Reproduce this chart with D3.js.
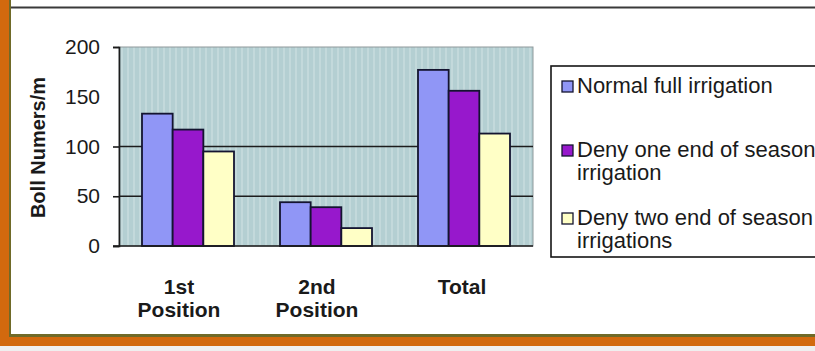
<!DOCTYPE html>
<html>
<head>
<meta charset="utf-8">
<script src="https://cdn.jsdelivr.net/npm/d3@7"></script>
<style>
  html, body { margin: 0; padding: 0; background: #ffffff; }
  svg { display: block; }
  text { font-family: "Liberation Sans", Arial, sans-serif; fill: #1a1a1a; }
</style>
</head>
<body>
<svg id="chart" width="815" height="351"></svg>
<script>
// Boll numbers per metre by fruiting position and irrigation treatment
const categories = [["1st", "Position"], ["2nd", "Position"], ["Total"]];
const categoryKeys = ["1st Position", "2nd Position", "Total"];
const seriesNames = [
  ["Normal full irrigation"],
  ["Deny one end of season", "irrigation"],
  ["Deny two end of season", "irrigations"]
];
const normalFull = [133, 44, 177];
const denyOne = [117, 39, 156];
const denyTwo = [95, 18, 113];
const yTicks = [0, 50, 100, 150, 200];
const gridValues = [50, 100];
const seriesValues = [normalFull, denyOne, denyTwo];
const seriesColors = ["#9096f6", "#9718cc", "#ffffc6"];

const svg = d3.select("#chart");
const W = 815, H = 351;

// frame: orange border on the left and bottom, dark rule along the top
svg.append("rect").attr("x", 0).attr("y", 346).attr("width", W).attr("height", 5).attr("fill", "#efefef");
svg.append("rect").attr("x", 0).attr("y", 0).attr("width", 9).attr("height", 346).attr("fill", "#d2690e");
svg.append("rect").attr("x", 0).attr("y", 337).attr("width", W).attr("height", 9).attr("fill", "#d2690e");
svg.append("rect").attr("x", 9).attr("y", 0).attr("width", 2).attr("height", 337).attr("fill", "#6f6a28");
svg.append("rect").attr("x", 9).attr("y", 334).attr("width", W - 9).attr("height", 3).attr("fill", "#6f6a28");
svg.append("line").attr("x1", 11).attr("x2", W).attr("y1", 7.5).attr("y2", 7.5)
  .attr("stroke", "#3a3a3a").attr("stroke-width", 2);

const plot = { left: 119, right: 533, top: 47, bottom: 246 };

const x0 = d3.scaleBand().domain(categoryKeys)
  .range([plot.left, plot.right]).paddingInner(1 / 3).paddingOuter(1 / 6);
const x1 = d3.scaleBand().domain(d3.range(seriesValues.length))
  .range([0, x0.bandwidth()]).padding(0);
const y = d3.scaleLinear().domain([0, 200]).range([plot.bottom, plot.top]);

// plot area with a light vertical-stripe texture
const defs = svg.append("defs");
const pat = defs.append("pattern").attr("id", "wall").attr("patternUnits", "userSpaceOnUse")
  .attr("width", 6).attr("height", 10);
pat.append("rect").attr("width", 6).attr("height", 10).attr("fill", "#b4cfd2");
pat.append("rect").attr("x", 1).attr("width", 2).attr("height", 10).attr("fill", "#c3d9db");

svg.append("rect")
  .attr("x", plot.left).attr("y", plot.top)
  .attr("width", plot.right - plot.left).attr("height", plot.bottom - plot.top)
  .attr("fill", "url(#wall)")
  .attr("stroke", "#8f9a9c").attr("stroke-width", 1);

// horizontal gridlines
svg.append("g").selectAll("line").data(gridValues).join("line")
  .attr("x1", plot.left).attr("x2", plot.right)
  .attr("y1", d => y(d)).attr("y2", d => y(d))
  .attr("stroke", "#1c1c1c").attr("stroke-width", 1.6);

// bars
const groups = svg.append("g").selectAll("g").data(categoryKeys).join("g")
  .attr("transform", d => `translate(${x0(d)},0)`);
groups.selectAll("rect")
  .data((d, i) => seriesValues.map((vals, s) => ({ s, v: vals[i] })))
  .join("rect")
  .attr("x", d => x1(d.s))
  .attr("y", d => y(d.v))
  .attr("width", x1.bandwidth())
  .attr("height", d => y(0) - y(d.v))
  .attr("fill", d => seriesColors[d.s])
  .attr("stroke", "#141430").attr("stroke-width", 1.8);

// y axis
const yAxis = d3.axisLeft(y).tickValues(yTicks).tickSize(6).tickPadding(13)
  .tickFormat(d3.format("d"));
const ya = svg.append("g").attr("transform", `translate(${plot.left},0)`).call(yAxis);
ya.select(".domain").attr("stroke", "#1c1c1c").attr("stroke-width", 1.6);
ya.selectAll(".tick line").attr("stroke", "#1c1c1c").attr("stroke-width", 1.6)
  .attr("opacity", d => d === 150 ? 0 : 1);
ya.selectAll(".tick text")
  .style("font-family", "'Liberation Sans', Arial, sans-serif")
  .style("font-size", "21px").attr("fill", "#1a1a1a");

// baseline
svg.append("line").attr("x1", plot.left - 6).attr("x2", plot.right)
  .attr("y1", y(0)).attr("y2", y(0)).attr("stroke", "#1c1c1c").attr("stroke-width", 1.6);

// category labels
const catG = svg.append("g");
categoryKeys.forEach((k, i) => {
  const t = catG.append("text")
    .attr("x", x0(k) + x0.bandwidth() / 2 - (categories[i].length > 1 ? 9 : 2))
    .attr("y", 294).attr("text-anchor", "middle")
    .style("font-size", "21px").style("font-weight", "bold");
  categories[i].forEach((line, j) => {
    t.append("tspan").attr("x", t.attr("x")).attr("dy", j === 0 ? 0 : 23).text(line);
  });
});

// y axis title
svg.append("text")
  .attr("transform", `translate(45,${(plot.top + plot.bottom) / 2 + 1}) rotate(-90)`)
  .attr("text-anchor", "middle")
  .style("font-size", "20px").style("font-weight", "bold")
  .text("Boll Numers/m");

// legend
const legend = svg.append("g");
legend.append("rect").attr("x", 551).attr("y", 66).attr("width", 300).attr("height", 191)
  .attr("fill", "#ffffff").attr("stroke", "#151515").attr("stroke-width", 1.6);
const legendBase = [93, 157, 225];
seriesNames.forEach((lines, s) => {
  legend.append("rect")
    .attr("x", 562).attr("y", legendBase[s] - 12).attr("width", 11).attr("height", 11)
    .attr("fill", seriesColors[s]).attr("stroke", "#141430").attr("stroke-width", 1.3);
  const t = legend.append("text").attr("x", 577).attr("y", legendBase[s])
    .style("font-size", "22px");
  lines.forEach((line, j) => {
    t.append("tspan").attr("x", 577).attr("dy", j === 0 ? 0 : 23).text(line);
  });
});
</script>
</body>
</html>
